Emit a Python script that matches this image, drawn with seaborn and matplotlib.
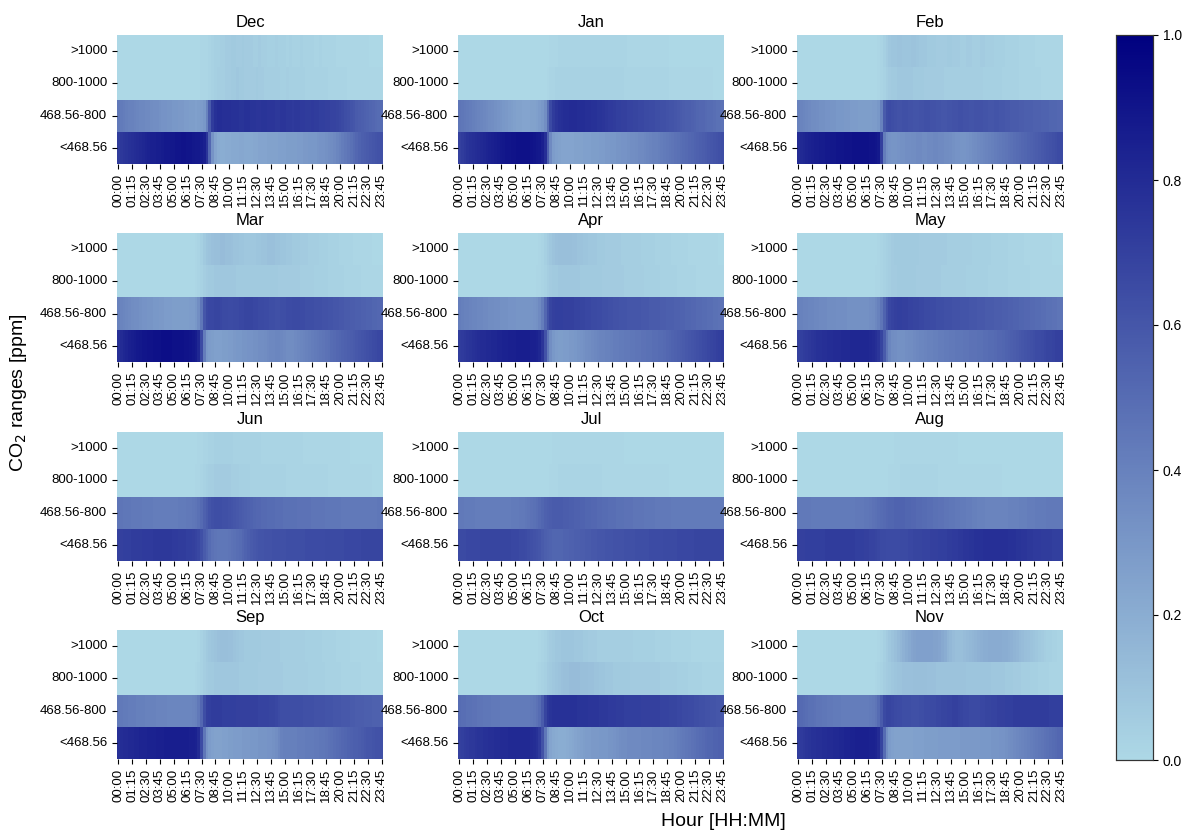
import matplotlib
matplotlib.use("Agg")
import matplotlib.pyplot as plt
from matplotlib.colors import LinearSegmentedColormap
import numpy as np
import pandas as pd
import seaborn as sns

# 15-minute slots of the day and CO2 concentration bands
slots = [f"{h:02d}:{m:02d}" for h in range(24) for m in (0, 15, 30, 45)]
bands = [">1000", "800-1000", "468.56-800", "<468.56"]
months = ["Dec", "Jan", "Feb", "Mar", "Apr", "May",
          "Jun", "Jul", "Aug", "Sep", "Oct", "Nov"]

# Share of time (%) spent in each band, per 15-minute slot
dec_gt1000 = [0, 0, 0, 0, 0, 0, 0, 0, 0, 0, 0, 0, 0, 0, 0, 0, 0, 0, 0, 0, 0, 0, 0, 0, 0, 0, 0, 0, 0, 0, 1, 1,
              1, 2, 3, 4, 4, 5, 5, 6, 6, 7, 7, 6, 6, 7, 6, 6, 6, 5, 5, 6, 5, 5, 4, 4, 4, 5, 4, 4, 4, 3, 4, 3,
              3, 3, 4, 3, 3, 3, 3, 2, 2, 3, 2, 2, 2, 2, 2, 1, 1, 1, 1, 1, 1, 1, 1, 1, 1, 1, 1, 0, 0, 0, 0, 0]
dec_800_1000 = [0, 0, 0, 0, 0, 0, 0, 0, 0, 0, 0, 0, 0, 0, 0, 0, 0, 0, 0, 0, 0, 0, 0, 0, 0, 0, 0, 0, 0, 0, 1, 1,
                1, 2, 3, 4, 5, 5, 5, 6, 6, 7, 7, 8, 7, 7, 6, 6, 6, 6, 7, 6, 6, 5, 5, 5, 5, 5, 5, 4, 4, 5, 4, 4,
                4, 4, 4, 4, 3, 3, 3, 3, 3, 3, 3, 3, 2, 2, 2, 2, 2, 2, 2, 1, 1, 1, 1, 1, 1, 1, 1, 1, 1, 1, 1, 1]
dec_468_800 = [44, 43, 42, 41, 40, 40, 39, 38, 37, 37, 36, 36, 35, 34, 34, 33, 32, 32, 31, 31, 30, 30, 29, 29, 28, 28, 27, 27, 26, 27, 28, 30,
               40, 58, 72, 77, 79, 79, 78, 78, 78, 77, 77, 77, 76, 76, 77, 77, 76, 76, 75, 75, 76, 76, 75, 75, 75, 74, 74, 75, 75, 74, 74, 73,
               74, 74, 73, 73, 72, 72, 73, 72, 72, 71, 71, 70, 70, 69, 69, 68, 67, 66, 64, 63, 61, 60, 58, 57, 56, 55, 54, 53, 52, 51, 50, 50]
dec_lt468 = [72, 74, 75, 76, 77, 78, 79, 80, 81, 82, 83, 84, 85, 85, 86, 86, 87, 88, 88, 89, 89, 90, 90, 91, 91, 90, 90, 89, 88, 88, 87, 85,
             75, 52, 32, 24, 21, 20, 20, 21, 21, 22, 22, 22, 23, 23, 22, 22, 22, 23, 23, 24, 24, 24, 25, 25, 25, 25, 26, 26, 26, 27, 27, 27,
             27, 28, 28, 29, 29, 30, 30, 30, 31, 32, 32, 33, 34, 35, 36, 38, 40, 42, 44, 46, 48, 50, 52, 54, 56, 57, 58, 59, 60, 61, 62, 63]

jan_gt1000 = [0, 0, 0, 0, 0, 0, 0, 0, 0, 0, 0, 0, 0, 0, 0, 0, 0, 0, 0, 0, 0, 0, 0, 0, 0, 0, 0, 0, 0, 0, 0, 0,
              0, 1, 1, 1, 2, 2, 2, 2, 2, 2, 2, 2, 2, 2, 2, 2, 2, 2, 2, 2, 2, 2, 2, 2, 2, 2, 2, 2, 2, 1, 1, 1,
              1, 1, 1, 1, 1, 1, 1, 1, 1, 1, 1, 1, 0, 0, 0, 0, 0, 0, 0, 0, 0, 0, 0, 0, 0, 0, 0, 0, 0, 0, 0, 0]
jan_800_1000 = [0, 0, 0, 0, 0, 0, 0, 0, 0, 0, 0, 0, 0, 0, 0, 0, 0, 0, 0, 0, 0, 0, 0, 0, 0, 0, 0, 0, 0, 0, 0, 0,
                1, 2, 2, 3, 3, 3, 3, 3, 3, 3, 3, 3, 3, 3, 3, 3, 3, 3, 3, 3, 3, 3, 3, 3, 3, 3, 3, 3, 2, 2, 2, 2,
                2, 2, 2, 2, 2, 2, 2, 2, 2, 2, 2, 2, 1, 1, 1, 1, 1, 1, 1, 1, 1, 1, 1, 1, 1, 1, 1, 1, 0, 0, 0, 0]
jan_468_800 = [46, 45, 44, 43, 42, 41, 40, 39, 38, 37, 36, 35, 34, 33, 32, 31, 30, 29, 28, 27, 26, 25, 25, 24, 24, 24, 25, 25, 26, 28, 30, 34,
               50, 66, 72, 75, 77, 78, 79, 79, 80, 80, 80, 79, 79, 79, 78, 78, 77, 77, 76, 76, 75, 74, 73, 73, 72, 71, 71, 70, 70, 69, 69, 68,
               68, 67, 67, 66, 66, 65, 65, 64, 64, 63, 63, 62, 61, 61, 60, 59, 58, 57, 56, 56, 55, 54, 53, 52, 52, 51, 50, 50, 49, 48, 48, 47]
jan_lt468 = [70, 72, 74, 76, 77, 78, 79, 80, 81, 82, 83, 84, 85, 86, 87, 88, 89, 90, 90, 91, 91, 92, 92, 92, 92, 92, 91, 90, 89, 88, 85, 78,
             55, 36, 28, 26, 25, 24, 24, 24, 24, 24, 25, 25, 25, 26, 26, 26, 27, 27, 27, 28, 28, 29, 29, 30, 30, 31, 31, 32, 32, 33, 34, 34,
             35, 36, 36, 37, 38, 39, 40, 40, 41, 42, 43, 44, 45, 46, 47, 48, 49, 50, 51, 52, 53, 54, 55, 56, 57, 58, 59, 60, 61, 62, 63, 64]

feb_gt1000 = [0, 0, 0, 0, 0, 0, 0, 0, 0, 0, 0, 0, 0, 0, 0, 0, 0, 0, 0, 0, 0, 0, 0, 0, 0, 0, 0, 0, 0, 1, 2, 4,
              6, 8, 9, 9, 10, 10, 9, 9, 9, 10, 10, 9, 8, 8, 8, 7, 7, 7, 6, 6, 6, 6, 7, 7, 6, 6, 6, 5, 5, 6, 6, 5,
              5, 5, 6, 6, 5, 5, 5, 4, 4, 4, 4, 3, 3, 3, 3, 3, 2, 2, 2, 2, 2, 2, 1, 1, 1, 1, 1, 1, 1, 1, 1, 1]
feb_800_1000 = [0, 0, 0, 0, 0, 0, 0, 0, 0, 0, 0, 0, 0, 0, 0, 0, 0, 0, 0, 0, 0, 0, 0, 0, 0, 0, 0, 0, 0, 1, 2, 3,
                5, 6, 7, 7, 8, 8, 8, 8, 8, 8, 7, 7, 7, 7, 6, 6, 6, 6, 6, 6, 6, 5, 5, 5, 5, 5, 5, 5, 5, 5, 5, 5,
                5, 5, 5, 4, 4, 4, 4, 4, 4, 4, 3, 3, 3, 3, 3, 3, 2, 2, 2, 2, 2, 2, 2, 2, 1, 1, 1, 1, 1, 1, 1, 1]
feb_468_800 = [40, 39, 38, 37, 36, 35, 35, 34, 33, 33, 32, 32, 31, 31, 30, 30, 30, 29, 29, 28, 28, 28, 27, 27, 27, 27, 27, 28, 28, 30, 40, 58,
               64, 65, 64, 63, 62, 62, 63, 63, 62, 62, 61, 61, 62, 62, 63, 63, 62, 62, 61, 61, 60, 60, 61, 61, 62, 62, 63, 63, 62, 62, 61, 61,
               62, 62, 62, 61, 61, 60, 60, 61, 61, 60, 60, 59, 59, 58, 58, 58, 57, 57, 56, 56, 56, 55, 55, 55, 54, 54, 54, 53, 53, 53, 52, 52]
feb_lt468 = [80, 81, 82, 83, 84, 85, 86, 86, 87, 87, 88, 88, 89, 89, 90, 90, 90, 91, 91, 91, 92, 92, 92, 92, 92, 92, 91, 91, 90, 88, 70, 42,
             34, 32, 31, 31, 32, 33, 33, 34, 34, 35, 35, 36, 36, 35, 35, 36, 36, 37, 37, 36, 36, 35, 35, 34, 33, 32, 32, 31, 31, 32, 33, 34,
             35, 36, 37, 38, 39, 40, 41, 42, 43, 44, 45, 46, 47, 48, 49, 50, 51, 52, 53, 54, 55, 56, 57, 58, 59, 60, 61, 62, 63, 64, 65, 66]

mar_gt1000 = [0, 0, 0, 0, 0, 0, 0, 0, 0, 0, 0, 0, 0, 0, 0, 0, 0, 0, 0, 0, 0, 0, 0, 0, 0, 0, 0, 0, 1, 2, 4, 7,
              9, 10, 11, 12, 12, 13, 13, 12, 12, 11, 10, 10, 9, 9, 8, 8, 8, 8, 9, 9, 10, 10, 11, 11, 11, 10, 10, 9, 9, 8, 8, 7,
              7, 7, 6, 6, 6, 5, 5, 5, 5, 4, 4, 4, 3, 3, 3, 3, 2, 2, 2, 2, 2, 1, 1, 1, 1, 1, 1, 1, 0, 0, 0, 0]
mar_800_1000 = [0, 0, 0, 0, 0, 0, 0, 0, 0, 0, 0, 0, 0, 0, 0, 0, 0, 0, 0, 0, 0, 0, 0, 0, 0, 0, 0, 0, 1, 2, 3, 5,
                6, 7, 7, 8, 8, 8, 8, 8, 8, 8, 8, 7, 7, 7, 7, 7, 7, 7, 7, 7, 7, 7, 7, 7, 7, 7, 6, 6, 6, 6, 6, 6,
                6, 6, 5, 5, 5, 5, 5, 4, 4, 4, 4, 4, 3, 3, 3, 3, 3, 3, 2, 2, 2, 2, 2, 2, 1, 1, 1, 1, 1, 1, 1, 1]
mar_468_800 = [40, 39, 38, 37, 36, 35, 34, 34, 33, 32, 32, 31, 31, 30, 30, 29, 29, 28, 28, 28, 27, 27, 27, 27, 27, 27, 28, 28, 30, 34, 45, 60,
               66, 67, 67, 68, 68, 67, 66, 66, 65, 65, 66, 66, 67, 67, 68, 68, 68, 67, 67, 66, 66, 65, 65, 64, 64, 63, 63, 64, 64, 65, 65, 66,
               66, 66, 65, 65, 64, 64, 64, 63, 63, 63, 62, 62, 61, 61, 60, 60, 59, 59, 58, 58, 57, 57, 56, 56, 55, 55, 54, 54, 53, 53, 52, 52]
mar_lt468 = [78, 80, 82, 83, 85, 86, 87, 88, 89, 90, 90, 91, 91, 92, 92, 92, 93, 93, 93, 93, 92, 92, 92, 92, 91, 91, 90, 89, 87, 82, 65, 42,
             30, 28, 27, 26, 26, 26, 27, 27, 28, 28, 29, 30, 30, 31, 31, 32, 32, 33, 33, 34, 34, 35, 36, 37, 37, 38, 38, 37, 36, 35, 35, 35,
             36, 37, 38, 39, 40, 41, 42, 43, 44, 45, 46, 47, 48, 50, 51, 52, 53, 54, 55, 56, 57, 58, 59, 60, 61, 62, 63, 64, 65, 66, 67, 68]

apr_gt1000 = [0, 0, 0, 0, 0, 0, 0, 0, 0, 0, 0, 0, 0, 0, 0, 0, 0, 0, 0, 0, 0, 0, 0, 0, 0, 0, 0, 0, 0, 1, 2, 4,
              6, 8, 10, 11, 12, 12, 12, 12, 12, 11, 11, 10, 10, 9, 9, 8, 8, 8, 7, 7, 7, 6, 6, 6, 6, 6, 6, 5, 5, 5, 5, 5,
              5, 5, 4, 4, 4, 4, 4, 3, 3, 3, 3, 3, 3, 2, 2, 2, 2, 2, 2, 1, 1, 1, 1, 1, 1, 1, 1, 1, 1, 1, 0, 0]
apr_800_1000 = [0, 0, 0, 0, 0, 0, 0, 0, 0, 0, 0, 0, 0, 0, 0, 0, 0, 0, 0, 0, 0, 0, 0, 0, 0, 0, 0, 0, 1, 1, 2, 3,
                5, 6, 7, 7, 8, 8, 8, 8, 8, 8, 8, 8, 7, 7, 7, 7, 7, 7, 7, 7, 6, 6, 6, 6, 6, 6, 6, 6, 5, 5, 5, 5,
                5, 5, 5, 4, 4, 4, 4, 4, 4, 3, 3, 3, 3, 3, 3, 2, 2, 2, 2, 2, 2, 2, 1, 1, 1, 1, 1, 1, 1, 1, 1, 1]
apr_468_800 = [42, 41, 40, 40, 39, 38, 38, 37, 37, 36, 36, 35, 35, 34, 34, 33, 33, 33, 32, 32, 32, 31, 31, 31, 31, 31, 31, 32, 33, 36, 42, 52,
               62, 68, 70, 71, 71, 71, 70, 70, 70, 70, 69, 69, 68, 68, 67, 67, 66, 66, 65, 65, 64, 64, 63, 63, 62, 62, 61, 61, 61, 60, 60, 60,
               60, 60, 59, 59, 59, 58, 58, 58, 58, 57, 57, 56, 56, 56, 55, 55, 54, 54, 53, 53, 52, 52, 51, 51, 50, 50, 49, 49, 48, 48, 47, 47]
apr_lt468 = [72, 73, 74, 75, 76, 77, 78, 79, 80, 80, 81, 81, 82, 82, 83, 83, 84, 84, 85, 85, 85, 86, 86, 86, 86, 86, 85, 85, 84, 82, 75, 62,
             45, 34, 30, 28, 27, 27, 28, 28, 29, 29, 30, 31, 32, 33, 34, 35, 36, 37, 38, 39, 39, 40, 40, 41, 42, 42, 43, 43, 44, 44, 45, 45,
             46, 46, 47, 47, 48, 48, 49, 49, 50, 50, 51, 52, 53, 54, 55, 56, 57, 58, 59, 60, 61, 62, 63, 64, 65, 66, 67, 68, 69, 70, 71, 72]

may_gt1000 = [0, 0, 0, 0, 0, 0, 0, 0, 0, 0, 0, 0, 0, 0, 0, 0, 0, 0, 0, 0, 0, 0, 0, 0, 0, 0, 0, 0, 0, 1, 2, 3,
              4, 5, 6, 7, 7, 7, 7, 7, 7, 7, 7, 7, 6, 6, 6, 6, 6, 6, 6, 6, 6, 6, 5, 5, 5, 5, 5, 5, 5, 5, 5, 4,
              4, 4, 4, 4, 4, 4, 3, 3, 3, 3, 3, 3, 2, 2, 2, 2, 2, 2, 1, 1, 1, 1, 1, 1, 1, 1, 1, 1, 0, 0, 0, 0]
may_800_1000 = [0, 0, 0, 0, 0, 0, 0, 0, 0, 0, 0, 0, 0, 0, 0, 0, 0, 0, 0, 0, 0, 0, 0, 0, 0, 0, 0, 0, 1, 1, 2, 3,
                4, 5, 6, 6, 7, 7, 7, 7, 7, 7, 7, 6, 6, 6, 6, 6, 6, 6, 6, 6, 5, 5, 5, 5, 5, 5, 5, 5, 5, 4, 4, 4,
                4, 4, 4, 4, 4, 3, 3, 3, 3, 3, 3, 3, 2, 2, 2, 2, 2, 2, 2, 2, 1, 1, 1, 1, 1, 1, 1, 1, 1, 1, 1, 1]
may_468_800 = [40, 40, 39, 39, 38, 38, 37, 37, 36, 36, 36, 35, 35, 35, 34, 34, 34, 34, 33, 33, 33, 33, 33, 33, 33, 33, 34, 35, 37, 40, 46, 54,
               62, 67, 69, 70, 71, 71, 70, 70, 69, 69, 68, 68, 67, 67, 66, 66, 65, 65, 64, 64, 64, 63, 63, 63, 62, 62, 62, 61, 61, 61, 60, 60,
               60, 59, 59, 59, 58, 58, 58, 57, 57, 57, 56, 56, 55, 55, 54, 54, 53, 53, 52, 52, 51, 51, 50, 50, 49, 49, 48, 48, 47, 47, 46, 46]
may_lt468 = [70, 71, 72, 73, 74, 75, 76, 77, 77, 78, 78, 79, 79, 80, 80, 80, 81, 81, 81, 82, 82, 82, 82, 82, 82, 82, 81, 80, 78, 75, 68, 58,
             46, 38, 35, 34, 33, 33, 33, 34, 35, 35, 36, 37, 38, 38, 39, 40, 40, 41, 41, 42, 42, 43, 43, 44, 44, 45, 45, 45, 46, 46, 47, 47,
             47, 48, 48, 49, 49, 50, 50, 51, 52, 52, 53, 54, 55, 56, 57, 58, 59, 60, 61, 62, 63, 64, 65, 65, 66, 67, 68, 68, 69, 70, 70, 71]

jun_gt1000 = [0, 0, 0, 0, 0, 0, 0, 0, 0, 0, 0, 0, 0, 0, 0, 0, 0, 0, 0, 0, 0, 0, 0, 0, 0, 0, 0, 0, 0, 1, 1, 2,
              2, 3, 3, 4, 4, 4, 4, 4, 4, 4, 3, 3, 3, 3, 3, 3, 3, 3, 3, 3, 2, 2, 2, 2, 2, 2, 2, 2, 2, 2, 2, 2,
              2, 2, 2, 1, 1, 1, 1, 1, 1, 1, 1, 1, 1, 1, 1, 1, 1, 1, 1, 1, 0, 0, 0, 0, 0, 0, 0, 0, 0, 0, 0, 0]
jun_800_1000 = [0, 0, 0, 0, 0, 0, 0, 0, 0, 0, 0, 0, 0, 0, 0, 0, 0, 0, 0, 0, 0, 0, 0, 0, 0, 0, 0, 0, 1, 1, 2, 3,
                4, 5, 5, 6, 6, 6, 6, 6, 6, 5, 5, 5, 4, 4, 4, 4, 3, 3, 3, 3, 3, 3, 3, 3, 3, 3, 3, 3, 3, 2, 2, 2,
                2, 2, 2, 2, 2, 2, 2, 2, 2, 2, 2, 2, 1, 1, 1, 1, 1, 1, 1, 1, 1, 1, 1, 1, 1, 1, 1, 1, 0, 0, 0, 0]
jun_468_800 = [46, 46, 45, 45, 45, 44, 44, 44, 44, 43, 43, 43, 43, 42, 42, 42, 42, 42, 42, 42, 42, 42, 43, 43, 43, 44, 44, 45, 46, 48, 51, 55,
               58, 61, 63, 64, 64, 64, 63, 63, 62, 61, 60, 59, 58, 57, 56, 55, 54, 53, 52, 52, 51, 51, 50, 50, 50, 49, 49, 49, 48, 48, 48, 48,
               48, 47, 47, 47, 47, 47, 46, 46, 46, 46, 46, 45, 45, 45, 45, 45, 45, 44, 44, 44, 44, 44, 44, 44, 44, 44, 44, 44, 44, 44, 45, 45]
jun_lt468 = [70, 70, 71, 71, 71, 72, 72, 72, 72, 73, 73, 73, 73, 74, 74, 74, 74, 74, 74, 74, 73, 73, 72, 72, 72, 71, 71, 70, 69, 67, 63, 58,
             54, 50, 47, 46, 45, 45, 45, 45, 46, 47, 48, 49, 50, 52, 54, 56, 58, 59, 60, 61, 61, 62, 62, 62, 63, 63, 63, 63, 63, 64, 64, 64,
             64, 64, 64, 64, 65, 65, 65, 65, 65, 65, 65, 66, 66, 66, 66, 66, 66, 66, 67, 67, 67, 67, 67, 67, 68, 68, 68, 68, 68, 68, 68, 68]

jul_gt1000 = [0, 0, 0, 0, 0, 0, 0, 0, 0, 0, 0, 0, 0, 0, 0, 0, 0, 0, 0, 0, 0, 0, 0, 0, 0, 0, 0, 0, 0, 0, 0, 0,
              0, 0, 1, 1, 1, 1, 1, 1, 1, 1, 1, 1, 1, 1, 1, 1, 1, 1, 1, 1, 1, 1, 1, 1, 1, 1, 1, 1, 0, 0, 0, 0,
              0, 0, 0, 0, 0, 0, 0, 0, 0, 0, 0, 0, 0, 0, 0, 0, 0, 0, 0, 0, 0, 0, 0, 0, 0, 0, 0, 0, 0, 0, 0, 0]
jul_800_1000 = [0, 0, 0, 0, 0, 0, 0, 0, 0, 0, 0, 0, 0, 0, 0, 0, 0, 0, 0, 0, 0, 0, 0, 0, 0, 0, 0, 0, 0, 0, 0, 0,
                0, 1, 1, 1, 2, 2, 2, 2, 2, 2, 2, 2, 2, 2, 2, 2, 2, 2, 2, 2, 1, 1, 1, 1, 1, 1, 1, 1, 1, 1, 1, 1,
                1, 1, 1, 1, 1, 1, 1, 1, 1, 1, 1, 1, 0, 0, 0, 0, 0, 0, 0, 0, 0, 0, 0, 0, 0, 0, 0, 0, 0, 0, 0, 0]
jul_468_800 = [44, 44, 43, 43, 43, 43, 42, 42, 42, 42, 42, 42, 42, 42, 42, 42, 42, 42, 42, 43, 43, 43, 44, 44, 45, 46, 47, 48, 49, 51, 53, 55,
               56, 57, 58, 58, 58, 58, 57, 57, 56, 56, 55, 55, 54, 54, 53, 53, 52, 52, 51, 51, 50, 50, 49, 49, 49, 48, 48, 48, 47, 47, 47, 46,
               46, 46, 46, 45, 45, 45, 45, 44, 44, 44, 44, 44, 44, 43, 43, 43, 43, 43, 43, 43, 43, 43, 43, 43, 43, 43, 43, 43, 43, 43, 43, 43]
jul_lt468 = [66, 66, 66, 67, 67, 67, 67, 67, 68, 68, 68, 68, 68, 68, 68, 68, 68, 68, 68, 67, 67, 67, 66, 66, 65, 64, 63, 62, 61, 60, 58, 56,
             55, 54, 53, 53, 53, 53, 54, 54, 55, 55, 56, 56, 57, 57, 58, 58, 59, 59, 60, 60, 60, 61, 61, 61, 62, 62, 62, 62, 63, 63, 63, 63,
             64, 64, 64, 64, 64, 65, 65, 65, 65, 65, 66, 66, 66, 66, 66, 67, 67, 67, 67, 67, 67, 68, 68, 68, 68, 68, 68, 68, 68, 68, 68, 68]

aug_gt1000 = [0, 0, 0, 0, 0, 0, 0, 0, 0, 0, 0, 0, 0, 0, 0, 0, 0, 0, 0, 0, 0, 0, 0, 0, 0, 0, 0, 0, 0, 0, 0, 0,
              0, 0, 0, 1, 1, 1, 1, 1, 1, 1, 1, 1, 1, 1, 1, 1, 1, 1, 1, 1, 1, 1, 1, 1, 1, 1, 0, 0, 0, 0, 0, 0,
              0, 0, 0, 0, 0, 0, 0, 0, 0, 0, 0, 0, 0, 0, 0, 0, 0, 0, 0, 0, 0, 0, 0, 0, 0, 0, 0, 0, 0, 0, 0, 0]
aug_800_1000 = [0, 0, 0, 0, 0, 0, 0, 0, 0, 0, 0, 0, 0, 0, 0, 0, 0, 0, 0, 0, 0, 0, 0, 0, 0, 0, 0, 0, 0, 0, 0, 0,
                0, 1, 1, 1, 1, 2, 2, 2, 2, 2, 2, 2, 2, 2, 2, 2, 2, 2, 2, 1, 1, 1, 1, 1, 1, 1, 1, 1, 1, 1, 1, 1,
                1, 1, 1, 1, 1, 1, 1, 1, 1, 1, 0, 0, 0, 0, 0, 0, 0, 0, 0, 0, 0, 0, 0, 0, 0, 0, 0, 0, 0, 0, 0, 0]
aug_468_800 = [44, 44, 44, 44, 44, 43, 43, 43, 43, 43, 43, 43, 43, 43, 43, 43, 43, 43, 43, 43, 43, 44, 44, 44, 45, 45, 46, 47, 48, 49, 50, 51,
               52, 53, 53, 54, 54, 54, 54, 53, 53, 52, 52, 51, 51, 50, 50, 49, 49, 48, 48, 47, 47, 46, 46, 45, 45, 44, 44, 43, 43, 42, 42, 41,
               41, 40, 40, 40, 39, 39, 39, 39, 39, 39, 39, 39, 40, 40, 40, 40, 41, 41, 41, 42, 42, 42, 43, 43, 43, 43, 44, 44, 44, 44, 44, 44]
aug_lt468 = [70, 70, 70, 71, 71, 71, 71, 71, 71, 71, 72, 72, 72, 72, 72, 72, 72, 72, 72, 72, 72, 71, 71, 71, 70, 70, 69, 69, 68, 67, 66, 66,
             65, 65, 65, 65, 65, 66, 66, 66, 67, 67, 68, 68, 68, 69, 69, 69, 70, 70, 70, 71, 71, 71, 72, 72, 73, 73, 74, 74, 75, 75, 76, 76,
             77, 77, 77, 78, 78, 78, 78, 78, 78, 78, 78, 78, 77, 77, 77, 76, 76, 75, 75, 74, 74, 73, 73, 73, 72, 72, 72, 72, 71, 71, 71, 71]

sep_gt1000 = [0, 0, 0, 0, 0, 0, 0, 0, 0, 0, 0, 0, 0, 0, 0, 0, 0, 0, 0, 0, 0, 0, 0, 0, 0, 0, 0, 0, 0, 1, 3, 5,
              7, 8, 9, 10, 11, 12, 12, 12, 11, 11, 10, 9, 8, 8, 7, 7, 7, 7, 7, 7, 6, 6, 6, 6, 6, 6, 6, 5, 5, 5, 5, 5,
              5, 5, 5, 5, 4, 4, 4, 4, 4, 4, 3, 3, 3, 3, 3, 2, 2, 2, 2, 2, 1, 1, 1, 1, 1, 1, 1, 1, 1, 1, 0, 0]
sep_800_1000 = [0, 0, 0, 0, 0, 0, 0, 0, 0, 0, 0, 0, 0, 0, 0, 0, 0, 0, 0, 0, 0, 0, 0, 0, 0, 0, 0, 0, 1, 2, 3, 5,
                6, 7, 7, 8, 8, 8, 8, 8, 8, 8, 8, 8, 7, 7, 7, 7, 7, 7, 7, 6, 6, 6, 6, 6, 6, 6, 6, 6, 5, 5, 5, 5,
                5, 5, 5, 5, 5, 4, 4, 4, 4, 4, 4, 3, 3, 3, 3, 3, 3, 2, 2, 2, 2, 2, 2, 2, 1, 1, 1, 1, 1, 1, 1, 1]
sep_468_800 = [44, 44, 43, 43, 42, 42, 42, 41, 41, 41, 40, 40, 40, 40, 39, 39, 39, 39, 38, 38, 38, 38, 38, 38, 38, 38, 38, 39, 40, 44, 52, 64,
               70, 71, 72, 72, 72, 72, 71, 71, 71, 71, 71, 70, 70, 70, 70, 70, 70, 70, 70, 69, 69, 69, 69, 68, 68, 67, 65, 64, 64, 64, 64, 64,
               64, 64, 64, 63, 63, 63, 63, 62, 62, 62, 62, 61, 61, 61, 60, 60, 60, 59, 59, 59, 58, 58, 57, 57, 57, 56, 56, 56, 55, 55, 55, 54]
sep_lt468 = [78, 79, 80, 80, 81, 81, 82, 82, 83, 83, 83, 84, 84, 84, 85, 85, 85, 86, 86, 86, 86, 86, 86, 86, 86, 86, 85, 85, 84, 80, 65, 45,
             32, 28, 26, 25, 25, 25, 26, 26, 27, 27, 28, 28, 28, 29, 29, 29, 30, 30, 30, 31, 31, 31, 32, 32, 33, 34, 37, 40, 41, 41, 41, 41,
             41, 42, 42, 42, 43, 43, 43, 44, 44, 45, 45, 46, 47, 48, 49, 50, 51, 52, 53, 54, 55, 56, 56, 57, 58, 59, 60, 60, 61, 62, 62, 63]

oct_gt1000 = [0, 0, 0, 0, 0, 0, 0, 0, 0, 0, 0, 0, 0, 0, 0, 0, 0, 0, 0, 0, 0, 0, 0, 0, 0, 0, 0, 0, 0, 1, 2, 3,
              5, 6, 7, 8, 8, 9, 9, 9, 9, 9, 8, 8, 8, 7, 7, 6, 6, 6, 5, 5, 5, 5, 5, 5, 5, 5, 5, 5, 5, 5, 5, 4,
              4, 4, 4, 4, 4, 4, 4, 3, 3, 3, 3, 3, 3, 2, 2, 2, 2, 2, 2, 2, 1, 1, 1, 1, 1, 1, 1, 1, 1, 1, 1, 1]
oct_800_1000 = [0, 0, 0, 0, 0, 0, 0, 0, 0, 0, 0, 0, 0, 0, 0, 0, 0, 0, 0, 0, 0, 0, 0, 0, 0, 0, 0, 0, 1, 2, 3, 4,
                6, 7, 8, 9, 10, 11, 12, 12, 13, 13, 13, 13, 12, 12, 12, 11, 11, 10, 10, 9, 9, 8, 8, 8, 7, 7, 7, 7, 7, 7, 6, 6,
                6, 6, 6, 6, 6, 6, 6, 6, 6, 5, 5, 5, 5, 5, 5, 4, 4, 4, 4, 3, 3, 3, 3, 3, 2, 2, 2, 2, 2, 2, 2, 2]
oct_468_800 = [50, 49, 49, 48, 48, 47, 47, 46, 46, 45, 45, 45, 44, 44, 44, 43, 43, 43, 43, 43, 43, 43, 43, 43, 43, 43, 44, 45, 47, 50, 58, 68,
               74, 76, 77, 77, 77, 77, 77, 77, 77, 77, 77, 76, 76, 76, 76, 75, 75, 75, 75, 74, 74, 74, 73, 73, 73, 72, 72, 72, 71, 71, 71, 71,
               71, 71, 70, 70, 70, 70, 70, 70, 70, 69, 69, 69, 68, 68, 68, 67, 67, 66, 66, 65, 65, 64, 64, 63, 63, 62, 62, 61, 61, 60, 60, 60]
oct_lt468 = [70, 71, 72, 73, 74, 74, 75, 76, 76, 77, 77, 78, 78, 79, 79, 80, 80, 80, 81, 81, 81, 81, 81, 81, 81, 81, 80, 79, 77, 73, 62, 45,
             30, 24, 22, 21, 20, 20, 20, 21, 22, 23, 24, 25, 26, 27, 28, 28, 29, 29, 29, 30, 30, 30, 31, 31, 32, 33, 34, 35, 35, 36, 36, 36,
             36, 36, 37, 37, 37, 37, 38, 38, 38, 38, 39, 39, 40, 40, 41, 42, 43, 44, 45, 46, 47, 48, 49, 50, 51, 52, 53, 53, 54, 54, 55, 55]

nov_gt1000 = [0, 0, 0, 0, 0, 0, 0, 0, 0, 0, 0, 0, 0, 0, 0, 0, 0, 0, 0, 0, 0, 0, 0, 0, 0, 0, 0, 0, 0, 1, 2, 4,
              6, 8, 10, 12, 14, 16, 18, 20, 22, 24, 25, 26, 26, 26, 26, 26, 26, 25, 25, 24, 22, 20, 17, 15, 13, 12, 12, 12, 13, 14, 15, 16,
              17, 18, 19, 20, 20, 21, 21, 21, 21, 21, 20, 20, 19, 18, 17, 16, 14, 13, 12, 11, 10, 9, 8, 7, 6, 5, 4, 4, 3, 3, 2, 2]
nov_800_1000 = [0, 0, 0, 0, 0, 0, 0, 0, 0, 0, 0, 0, 0, 0, 0, 0, 0, 0, 0, 0, 0, 0, 0, 0, 0, 0, 0, 0, 1, 2, 3, 5,
                6, 7, 8, 9, 10, 10, 11, 11, 11, 11, 12, 12, 12, 12, 12, 11, 11, 11, 10, 10, 10, 10, 10, 10, 10, 10, 10, 10, 10, 9, 9, 9,
                9, 9, 9, 9, 9, 9, 8, 8, 8, 8, 8, 7, 7, 7, 6, 6, 6, 5, 5, 5, 4, 4, 4, 3, 3, 3, 3, 2, 2, 2, 2, 2]
nov_468_800 = [52, 51, 50, 49, 48, 48, 47, 46, 46, 45, 45, 44, 44, 43, 43, 43, 42, 42, 42, 42, 42, 42, 42, 42, 42, 42, 43, 44, 46, 50, 58, 66,
               68, 68, 67, 66, 65, 65, 64, 64, 64, 63, 63, 63, 64, 64, 65, 65, 66, 66, 67, 67, 68, 68, 69, 69, 70, 70, 69, 68, 67, 67, 66, 66,
               66, 66, 67, 67, 68, 68, 69, 69, 70, 70, 70, 71, 71, 71, 72, 72, 72, 72, 72, 72, 72, 72, 72, 72, 72, 72, 72, 71, 71, 71, 71, 71]
nov_lt468 = [72, 73, 74, 75, 76, 77, 77, 78, 78, 79, 79, 80, 80, 81, 81, 82, 82, 83, 83, 84, 84, 85, 85, 85, 85, 85, 84, 84, 83, 80, 68, 50,
             34, 28, 26, 25, 25, 25, 25, 25, 25, 25, 26, 26, 26, 26, 27, 27, 27, 27, 27, 28, 28, 28, 28, 28, 28, 28, 28, 29, 29, 29, 29, 29,
             29, 29, 30, 30, 30, 30, 31, 31, 31, 32, 32, 33, 34, 35, 36, 37, 38, 39, 40, 41, 42, 43, 44, 45, 46, 47, 48, 49, 50, 51, 52, 53]

monthly = {
    "Dec": [dec_gt1000, dec_800_1000, dec_468_800, dec_lt468],
    "Jan": [jan_gt1000, jan_800_1000, jan_468_800, jan_lt468],
    "Feb": [feb_gt1000, feb_800_1000, feb_468_800, feb_lt468],
    "Mar": [mar_gt1000, mar_800_1000, mar_468_800, mar_lt468],
    "Apr": [apr_gt1000, apr_800_1000, apr_468_800, apr_lt468],
    "May": [may_gt1000, may_800_1000, may_468_800, may_lt468],
    "Jun": [jun_gt1000, jun_800_1000, jun_468_800, jun_lt468],
    "Jul": [jul_gt1000, jul_800_1000, jul_468_800, jul_lt468],
    "Aug": [aug_gt1000, aug_800_1000, aug_468_800, aug_lt468],
    "Sep": [sep_gt1000, sep_800_1000, sep_468_800, sep_lt468],
    "Oct": [oct_gt1000, oct_800_1000, oct_468_800, oct_lt468],
    "Nov": [nov_gt1000, nov_800_1000, nov_468_800, nov_lt468],
}

for name, rows in monthly.items():
    for r in rows:
        if len(r) != len(slots):
            raise ValueError(f"{name}: expected {len(slots)} values, got {len(r)}")

plt.rcParams["font.family"] = ["Liberation Sans", "DejaVu Sans"]

cmap = LinearSegmentedColormap.from_list("co2", ["lightblue", "navy"])

W, H = 1184, 834
fig = plt.figure(figsize=(W / 100, H / 100), dpi=100)

col_left = [117, 458, 797]
row_top = [35, 233, 432, 630]
panel_w, panel_h = 266, 129

# shared colour scale on the right
cax = fig.add_axes([1116 / W, 1 - 760 / H, 37 / W, 725 / H])

for k, month in enumerate(months):
    r, c = divmod(k, 3)
    x0 = col_left[c]
    y0 = row_top[r]
    ax = fig.add_axes([x0 / W, 1 - (y0 + panel_h) / H, panel_w / W, panel_h / H])
    df = pd.DataFrame(np.array(monthly[month]) / 100.0, index=bands, columns=slots)
    sns.heatmap(df, ax=ax, cmap=cmap, vmin=0, vmax=1,
                cbar=(k == 0), cbar_ax=cax if k == 0 else None,
                xticklabels=5, yticklabels=True, antialiased=False)
    ax.set_title(month, fontsize=12)
    ax.set_xlabel("")
    ax.set_ylabel("")
    ax.tick_params(axis="x", labelsize=9.5, rotation=90)
    ax.tick_params(axis="y", labelsize=9.5, rotation=0)

cax.tick_params(labelsize=10)
cax.set_yticks([0.0, 0.2, 0.4, 0.6, 0.8, 1.0])
for sp in cax.spines.values():
    sp.set_visible(True)
    sp.set_linewidth(0.8)
    sp.set_edgecolor("#333333")

fig.text(0.016, 0.529, "CO$_2$ ranges [ppm]", rotation=90, va="center", ha="center", fontsize=14)
fig.text(0.611, 0.015, "Hour [HH:MM]", va="center", ha="center", fontsize=14)

fig.savefig("out.png", dpi=100)
